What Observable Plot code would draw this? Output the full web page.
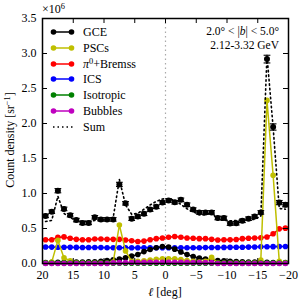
<!DOCTYPE html>
<html><head><meta charset="utf-8">
<script src="https://cdn.jsdelivr.net/npm/d3@7"></script>
<script src="https://cdn.jsdelivr.net/npm/@observablehq/plot@0.6"></script>
<style>
body{margin:0;background:#fff;}
#wrap{position:relative;width:300px;height:300px;font-family:"Liberation Serif",serif;color:#000;overflow:hidden;}
.abs{position:absolute;white-space:nowrap;line-height:1;}
sup{font-size:70%;vertical-align:0;position:relative;top:-0.45em;}
</style></head><body><div id="wrap"></div>
<script>
// longitude bin centres (deg)
const lon = [19.5,18.5,17.5,16.5,15.5,14.5,13.5,12.5,11.5,10.5,9.5,8.5,7.5,6.5,5.5,4.5,3.5,2.5,1.5,0.5,
  -0.5,-1.5,-2.5,-3.5,-4.5,-5.5,-6.5,-7.5,-8.5,-9.5,-10.5,-11.5,-12.5,-13.5,-14.5,-15.5,-16.5,-17.5,-18.5,-19.5];
// measured data (x1e6 sr^-1) and errors
const dataVal = [0.68,0.74,1.04,0.78,0.69,0.62,0.58,0.58,0.66,0.63,0.63,0.63,1.13,0.86,0.64,0.67,0.71,0.77,0.81,0.87,
  0.90,0.875,0.91,0.84,0.77,0.73,0.73,0.73,0.65,0.65,0.57,0.575,0.61,0.64,0.67,0.73,2.92,1.95,0.87,0.84];
const dataErr = [0.025,0.025,0.03,0.025,0.025,0.025,0.025,0.025,0.025,0.025,0.025,0.025,0.03,0.025,0.025,0.025,0.025,0.025,0.025,0.025,
  0.025,0.025,0.025,0.025,0.025,0.025,0.025,0.025,0.025,0.025,0.025,0.025,0.025,0.025,0.025,0.025,0.055,0.045,0.03,0.03];
const gce = [0.015,0.016,0.017,0.018,0.019,0.02,0.021,0.023,0.026,0.033,0.043,0.052,0.062,0.08,0.105,0.129,0.17,0.2,0.225,0.243,
  0.236,0.205,0.165,0.127,0.1,0.077,0.062,0.052,0.043,0.037,0.032,0.028,0.025,0.022,0.02,0.018,0.016,0.015,0.014,0.013];
const pscs = [0.005,0.02,0.33,0.08,0.04,0.01,0.005,0.005,0.005,0.005,0.005,0.02,0.55,0.18,0.03,0.03,0.04,0.05,0.06,0.067,
  0.067,0.067,0.057,0.043,0.033,0.02,0.03,0.09,0.01,0.005,0.005,0.005,0.005,0.005,0.005,0.05,2.33,1.26,0.03,0.01];
const pi0 = [0.34,0.34,0.375,0.38,0.36,0.345,0.34,0.34,0.35,0.35,0.345,0.345,0.345,0.335,0.325,0.315,0.32,0.34,0.355,0.365,
  0.375,0.385,0.375,0.365,0.36,0.355,0.355,0.345,0.335,0.34,0.338,0.343,0.355,0.36,0.365,0.368,0.378,0.424,0.495,0.505];
const ics = [0.235,0.234,0.233,0.232,0.231,0.23,0.229,0.228,0.228,0.227,0.226,0.226,0.225,0.225,0.224,0.224,0.224,0.224,0.224,0.224,
  0.224,0.224,0.225,0.225,0.226,0.226,0.227,0.228,0.229,0.23,0.231,0.232,0.233,0.234,0.236,0.238,0.24,0.241,0.242,0.243];
const iso = [0.005,0.005,0.005,0.005,0.005,0.005,0.005,0.005,0.005,0.005,0.005,0.005,0.005,0.005,0.005,0.005,0.005,0.005,0.005,0.005,
  0.005,0.005,0.005,0.005,0.005,0.005,0.005,0.005,0.005,0.005,0.005,0.005,0.005,0.005,0.005,0.005,0.005,0.005,0.005,0.005];
const bubbles = [0,0,0,0,0,0,0,0,0,0,0,0.01,0.012,0.013,0.014,0.015,0.016,0.017,0.018,0.018,
  0.018,0.018,0.017,0.016,0.015,0.014,0.013,0.012,0,0,0,0,0,0,0,0,0,0,0,0];
const sumVal = [0.60,0.615,0.96,0.715,0.655,0.61,0.60,0.60,0.614,0.62,0.624,0.658,1.20,0.838,0.703,0.718,0.775,0.836,0.887,0.922,
  0.925,0.904,0.844,0.781,0.739,0.697,0.692,0.732,0.622,0.617,0.611,0.613,0.623,0.626,0.631,0.679,2.97,1.945,0.786,0.776];

const xTicks = [20,15,10,5,0,-5,-10,-15,-20];
const yTicks = [0,0.5,1.0,1.5,2.0,2.5,3.0,3.5];

const C = {gce:"#000000", pscs:"#bfbf00", pi0:"#ff0000", ics:"#0000ff", iso:"#008000", bub:"#bf00bf"};

const rows = lon.map((x,i)=>({x, data:dataVal[i], err:dataErr[i], gce:gce[i], pscs:pscs[i], pi0:pi0[i],
  ics:ics[i], iso:iso[i], bub:bubbles[i], sum:sumVal[i]}));

const W=300,H=300,mL=42,mR=12,mT=18,mB=37;
const pw=W-mL-mR, ph=H-mT-mB, tl=5;
const fmt = d => d<0 ? "\u2212"+(-d) : String(d);

function series(key,color){
  return [
    Plot.line(rows,{x:"x",y:key,stroke:color,strokeWidth:1.5}),
    Plot.dot(rows,{x:"x",y:key,fill:color,r:2.8,stroke:null})
  ];
}

const chart = Plot.plot({
  width:W,height:H,marginLeft:mL,marginRight:mR,marginTop:mT,marginBottom:mB,
  style:{fontFamily:"Liberation Serif",fontSize:"12px",background:"white",color:"black",overflow:"visible"},
  x:{domain:[20,-20]},
  y:{domain:[0,3.5]},
  marks:[
    Plot.ruleX([0],{stroke:"#aaaaaa",strokeWidth:1.2,strokeDasharray:"1.5,3"}),
    ...series("pi0",C.pi0),
    ...series("ics",C.ics),
    ...series("gce",C.gce),
    ...series("pscs",C.pscs),
    ...series("iso",C.iso),
    ...series("bub",C.bub),
    Plot.line(rows,{x:"x",y:"sum",stroke:"black",strokeWidth:1.6,strokeDasharray:"1.5,3"}),
    Plot.ruleX(rows,{x:"x",y1:d=>d.data-d.err,y2:d=>d.data+d.err,stroke:"black",strokeWidth:1.1}),
    Plot.link(rows,{x1:d=>d.x+0.55,x2:d=>d.x-0.55,y1:d=>d.data-d.err,y2:d=>d.data-d.err,stroke:"black",strokeWidth:1.1}),
    Plot.link(rows,{x1:d=>d.x+0.55,x2:d=>d.x-0.55,y1:d=>d.data+d.err,y2:d=>d.data+d.err,stroke:"black",strokeWidth:1.1}),
    Plot.dot(rows,{x:"x",y:"data",fill:"black",r:3,stroke:null}),
    // inward ticks
    Plot.ruleX(xTicks,{x:d=>d,insetTop:ph-tl,stroke:"black",strokeWidth:1}),
    Plot.ruleX(xTicks,{x:d=>d,insetBottom:ph-tl,stroke:"black",strokeWidth:1}),
    Plot.ruleY(yTicks,{y:d=>d,insetRight:pw-tl,stroke:"black",strokeWidth:1}),
    Plot.ruleY(yTicks,{y:d=>d,insetLeft:pw-tl,stroke:"black",strokeWidth:1}),
    Plot.axisX({ticks:xTicks,tickSize:0,tickPadding:7,tickFormat:fmt,label:null}),
    Plot.axisY({ticks:yTicks,tickSize:0,tickPadding:6,tickFormat:d3.format(".1f"),label:null}),
    Plot.frame({stroke:"black",strokeWidth:1.5})
  ]
});
const wrap=document.getElementById("wrap");
chart.style.position="absolute";chart.style.left="0";chart.style.top="0";
wrap.appendChild(chart);

function addText(html,left,top,opts={}){
  const d=document.createElement("div");d.className="abs";d.innerHTML=html;
  d.style.left=left+"px";d.style.top=top+"px";
  d.style.fontSize=(opts.size||11.5)+"px";
  if(opts.transform) d.style.transform=opts.transform;
  wrap.appendChild(d);return d;
}
// axis labels
addText("<i>ℓ</i> [deg]",165,292,{transform:"translate(-50%,-50%)",size:12});
addText("Count density [sr<sup>\u22121</sup>]",10,140,{transform:"translate(-50%,-50%) rotate(-90deg)",size:12});
addText("\u00d710<sup>6</sup>",42,3,{size:12});
// annotation
addText("2.0° &lt; |<i>b</i>| &lt; 5.0°",279,26,{transform:"translateX(-100%)"});
addText("2.12-3.32 GeV",279,40,{transform:"translateX(-100%)"});

// legend
const legend = [
  {label:"GCE",color:C.gce},
  {label:"PSCs",color:C.pscs},
  {label:"<i>π</i><sup>0</sup>+Bremss",color:C.pi0},
  {label:"ICS",color:C.ics},
  {label:"Isotropic",color:C.iso},
  {label:"Bubbles",color:C.bub},
  {label:"Sum",color:"black",dotted:true}
];
legend.forEach((e,i)=>{
  const cy=32.3+i*15.7;
  const s=document.createElementNS("http://www.w3.org/2000/svg","svg");
  s.setAttribute("width","26");s.setAttribute("height","10");
  s.style.position="absolute";s.style.left="50px";s.style.top=(cy-5)+"px";
  if(e.dotted){
    s.innerHTML=`<line x1="3" y1="5" x2="23" y2="5" stroke="black" stroke-width="1.6" stroke-dasharray="1.5,3"/>`;
  } else {
    s.innerHTML=`<line x1="3" y1="5" x2="22" y2="5" stroke="${e.color}" stroke-width="1.5"/>
      <circle cx="3.5" cy="5" r="2.8" fill="${e.color}"/><circle cx="21.5" cy="5" r="2.8" fill="${e.color}"/>`;
  }
  wrap.appendChild(s);
  addText(e.label,83,cy,{transform:"translateY(-50%)",size:12});
});
</script></body></html>
